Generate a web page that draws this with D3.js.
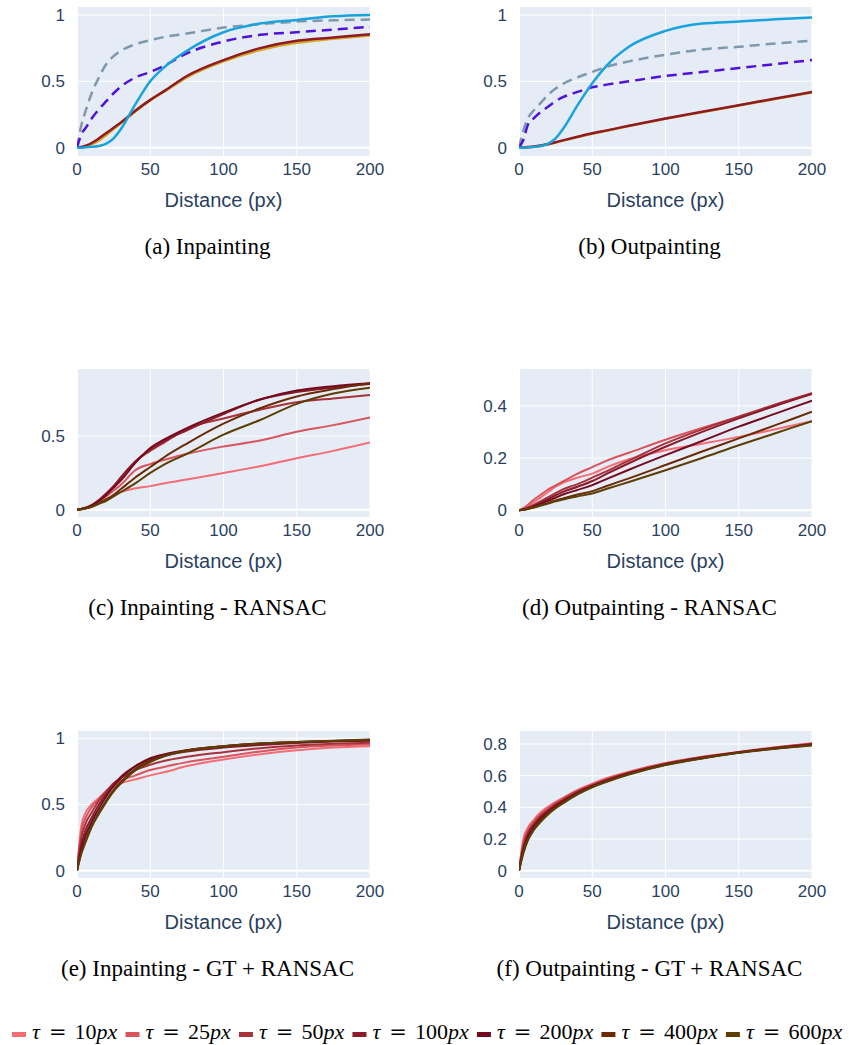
<!DOCTYPE html>
<html>
<head>
<meta charset="utf-8">
<script src="https://cdn.jsdelivr.net/npm/d3@7"></script>
<style>
  body { margin: 0; background: #fff; }
  .tick-label { font-family: "Liberation Sans", Arial, sans-serif; font-size: 17px; fill: #2a3f5f; }
  .axis-title { font-family: "Liberation Sans", Arial, sans-serif; font-size: 20px; fill: #2a3f5f; }
  .caption { font-family: "Liberation Serif", "Times New Roman", serif; font-size: 23px; fill: #000; }
  .legend { font-family: "Liberation Serif", "Times New Roman", serif; font-size: 22px; fill: #000; }
</style>
</head>
<body>
<svg id="chart" width="849" height="1045"></svg>
<script>
// shared x samples (distance in px)
var distance = [0, 3, 6, 10, 15, 20, 25, 30, 40, 50, 60, 75, 100, 125, 150, 175, 200];
var xTicks = [0, 50, 100, 150, 200];

// (a) Inpainting
var inpBlue   = [0, 0, 0.003, 0.006, 0.012, 0.03, 0.07, 0.14, 0.33, 0.5, 0.61, 0.73, 0.87, 0.935, 0.962, 0.99, 1.0];
var inpGrey   = [0, 0.17, 0.28, 0.41, 0.53, 0.63, 0.69, 0.73, 0.78, 0.81, 0.835, 0.86, 0.905, 0.93, 0.95, 0.96, 0.965];
var inpPurple = [0, 0.1, 0.15, 0.22, 0.29, 0.35, 0.41, 0.46, 0.53, 0.57, 0.62, 0.71, 0.8, 0.85, 0.87, 0.89, 0.91];
var inpRed    = [0, 0.005, 0.015, 0.035, 0.07, 0.11, 0.15, 0.19, 0.28, 0.36, 0.43, 0.54, 0.66, 0.75, 0.805, 0.83, 0.855];
var inpGold   = [0, 0.003, 0.01, 0.025, 0.055, 0.095, 0.14, 0.185, 0.275, 0.355, 0.425, 0.53, 0.65, 0.735, 0.79, 0.82, 0.845];

// (b) Outpainting
var outBlue   = [0, 0, 0.002, 0.005, 0.012, 0.03, 0.07, 0.14, 0.32, 0.485, 0.62, 0.76, 0.88, 0.935, 0.95, 0.967, 0.98];
var outGrey   = [0, 0.13, 0.22, 0.28, 0.34, 0.4, 0.445, 0.48, 0.53, 0.57, 0.61, 0.65, 0.7, 0.74, 0.76, 0.785, 0.807];
var outPurple = [0, 0.06, 0.17, 0.22, 0.27, 0.31, 0.35, 0.38, 0.42, 0.455, 0.475, 0.5, 0.54, 0.57, 0.6, 0.63, 0.66];
var outRed    = [0, 0.001, 0.004, 0.008, 0.016, 0.028, 0.041, 0.055, 0.082, 0.108, 0.13, 0.165, 0.22, 0.27, 0.32, 0.37, 0.42];
var outGold   = [0, 0.001, 0.003, 0.007, 0.015, 0.026, 0.039, 0.053, 0.08, 0.105, 0.127, 0.162, 0.217, 0.267, 0.317, 0.366, 0.416];

// tau thresholds shared by panels c-f
var tauLabels = ["10", "25", "50", "100", "200", "400", "600"];
var tauColors = ["#f46d75", "#d9545c", "#a8323a", "#8c1c2b", "#730a1e", "#6b2a04", "#5c3e05"];

// (c) Inpainting - RANSAC
var inpRansac = [
  [0, 0.003, 0.01, 0.02, 0.045, 0.07, 0.1, 0.12, 0.145, 0.16, 0.18, 0.205, 0.25, 0.295, 0.35, 0.4, 0.457],
  [0, 0.004, 0.012, 0.025, 0.055, 0.09, 0.13, 0.17, 0.27, 0.31, 0.34, 0.38, 0.43, 0.47, 0.53, 0.575, 0.627],
  [0, 0.005, 0.013, 0.03, 0.065, 0.11, 0.16, 0.22, 0.33, 0.4, 0.46, 0.55, 0.62, 0.68, 0.73, 0.757, 0.78],
  [0, 0.005, 0.013, 0.03, 0.065, 0.11, 0.16, 0.22, 0.33, 0.41, 0.47, 0.54, 0.65, 0.75, 0.8, 0.83, 0.855],
  [0, 0.004, 0.012, 0.025, 0.06, 0.1, 0.15, 0.2, 0.32, 0.42, 0.48, 0.555, 0.66, 0.75, 0.81, 0.84, 0.86],
  [0, 0.003, 0.009, 0.02, 0.045, 0.07, 0.1, 0.14, 0.22, 0.29, 0.36, 0.45, 0.585, 0.69, 0.77, 0.82, 0.86],
  [0, 0.003, 0.008, 0.02, 0.04, 0.06, 0.09, 0.12, 0.18, 0.25, 0.31, 0.38, 0.51, 0.61, 0.72, 0.79, 0.83]
];

// (d) Outpainting - RANSAC
var outRansac = [
  [0, 0.005, 0.015, 0.03, 0.05, 0.07, 0.09, 0.105, 0.125, 0.14, 0.165, 0.195, 0.23, 0.255, 0.281, 0.31, 0.341],
  [0, 0.008, 0.02, 0.04, 0.06, 0.08, 0.095, 0.11, 0.14, 0.165, 0.19, 0.22, 0.27, 0.315, 0.358, 0.4, 0.448],
  [0, 0.004, 0.01, 0.02, 0.035, 0.05, 0.065, 0.08, 0.1, 0.125, 0.15, 0.19, 0.256, 0.31, 0.358, 0.405, 0.448],
  [0, 0.003, 0.008, 0.016, 0.03, 0.043, 0.057, 0.07, 0.09, 0.112, 0.14, 0.18, 0.243, 0.3, 0.352, 0.4, 0.445],
  [0, 0.002, 0.006, 0.013, 0.025, 0.036, 0.048, 0.06, 0.078, 0.096, 0.12, 0.155, 0.211, 0.265, 0.32, 0.37, 0.42],
  [0, 0.002, 0.005, 0.01, 0.02, 0.028, 0.037, 0.045, 0.06, 0.073, 0.093, 0.122, 0.173, 0.225, 0.275, 0.326, 0.377],
  [0, 0.002, 0.005, 0.01, 0.018, 0.026, 0.034, 0.041, 0.053, 0.064, 0.082, 0.108, 0.153, 0.2, 0.249, 0.295, 0.341]
];

// (e) Inpainting - GT + RANSAC
var inpGtRansac = [
  [0, 0.34, 0.44, 0.5, 0.55, 0.6, 0.63, 0.66, 0.69, 0.72, 0.745, 0.79, 0.84, 0.88, 0.91, 0.93, 0.94],
  [0, 0.3, 0.4, 0.48, 0.54, 0.6, 0.64, 0.68, 0.72, 0.76, 0.785, 0.82, 0.86, 0.9, 0.93, 0.945, 0.955],
  [0, 0.25, 0.36, 0.44, 0.53, 0.6, 0.66, 0.7, 0.76, 0.8, 0.83, 0.86, 0.895, 0.925, 0.945, 0.958, 0.967],
  [0, 0.2, 0.31, 0.4, 0.5, 0.58, 0.65, 0.71, 0.79, 0.84, 0.87, 0.9, 0.93, 0.95, 0.965, 0.975, 0.982],
  [0, 0.17, 0.27, 0.37, 0.47, 0.56, 0.64, 0.7, 0.79, 0.85, 0.88, 0.91, 0.94, 0.96, 0.97, 0.98, 0.985],
  [0, 0.14, 0.23, 0.34, 0.44, 0.53, 0.61, 0.67, 0.77, 0.83, 0.87, 0.91, 0.94, 0.96, 0.972, 0.98, 0.988],
  [0, 0.13, 0.22, 0.33, 0.43, 0.52, 0.6, 0.66, 0.76, 0.82, 0.865, 0.905, 0.94, 0.96, 0.972, 0.982, 0.99]
];

// (f) Outpainting - GT + RANSAC
var outGtRansac = [
  [0, 0.2, 0.27, 0.32, 0.37, 0.405, 0.435, 0.46, 0.51, 0.55, 0.585, 0.625, 0.68, 0.72, 0.75, 0.78, 0.805],
  [0, 0.18, 0.255, 0.31, 0.36, 0.395, 0.428, 0.455, 0.505, 0.545, 0.58, 0.622, 0.678, 0.718, 0.749, 0.778, 0.803],
  [0, 0.16, 0.24, 0.295, 0.35, 0.385, 0.42, 0.448, 0.5, 0.54, 0.575, 0.618, 0.675, 0.716, 0.748, 0.776, 0.8],
  [0, 0.14, 0.225, 0.285, 0.34, 0.378, 0.413, 0.442, 0.495, 0.536, 0.572, 0.615, 0.673, 0.714, 0.747, 0.775, 0.798],
  [0, 0.13, 0.21, 0.275, 0.33, 0.37, 0.406, 0.436, 0.49, 0.533, 0.568, 0.612, 0.671, 0.712, 0.746, 0.773, 0.796],
  [0, 0.12, 0.2, 0.265, 0.32, 0.363, 0.4, 0.43, 0.486, 0.53, 0.565, 0.61, 0.669, 0.71, 0.745, 0.771, 0.793],
  [0, 0.11, 0.19, 0.255, 0.31, 0.356, 0.394, 0.425, 0.482, 0.527, 0.562, 0.607, 0.667, 0.708, 0.744, 0.77, 0.79]
];

var svg = d3.select("#chart");

function methodSeries(blue, grey, purple, red, gold) {
  return [
    { values: gold, color: "#d4a62a", width: 2.5 },
    { values: red, color: "#8e1b1f", width: 2.5 },
    { values: grey, color: "#7f98ad", width: 2.5, dash: "10,6" },
    { values: purple, color: "#4f12dc", width: 2.5, dash: "10,6" },
    { values: blue, color: "#19a3dd", width: 2.5 }
  ];
}

function tauSeries(rows) {
  return rows.map(function (vals, i) {
    return { values: vals, color: tauColors[i], width: 2 };
  });
}

var panels = [
  { left: 77, top: 7, h: 149, yDomain: [-0.063, 1.06], yTicks: [0, 0.5, 1], caption: "(a) Inpainting",
    series: methodSeries(inpBlue, inpGrey, inpPurple, inpRed, inpGold) },
  { left: 519, top: 7, h: 149, yDomain: [-0.063, 1.06], yTicks: [0, 0.5, 1], caption: "(b) Outpainting",
    series: methodSeries(outBlue, outGrey, outPurple, outRed, outGold) },
  { left: 77, top: 369, h: 148, yDomain: [-0.05, 0.957], yTicks: [0, 0.5], caption: "(c) Inpainting - RANSAC",
    series: tauSeries(inpRansac) },
  { left: 519, top: 369, h: 148, yDomain: [-0.026, 0.541], yTicks: [0, 0.2, 0.4], caption: "(d) Outpainting - RANSAC",
    series: tauSeries(outRansac) },
  { left: 77, top: 731, h: 147, yDomain: [-0.055, 1.055], yTicks: [0, 0.5, 1], caption: "(e) Inpainting - GT + RANSAC",
    series: tauSeries(inpGtRansac) },
  { left: 519, top: 731, h: 147, yDomain: [-0.046, 0.882], yTicks: [0, 0.2, 0.4, 0.6, 0.8], caption: "(f) Outpainting - GT + RANSAC",
    series: tauSeries(outGtRansac) }
];

var plotW = 293;
var fmt = d3.format("~g");

panels.forEach(function (p) {
  var x = d3.scaleLinear().domain([0, 200]).range([0, plotW]);
  var y = d3.scaleLinear().domain(p.yDomain).range([p.h, 0]);
  var g = svg.append("g").attr("transform", "translate(" + p.left + "," + p.top + ")");

  g.append("rect").attr("width", plotW).attr("height", p.h).attr("fill", "#e5ecf6");

  // grid
  g.selectAll(".xgrid").data(xTicks).enter().append("line")
    .attr("x1", function (d) { return x(d); }).attr("x2", function (d) { return x(d); })
    .attr("y1", 0).attr("y2", p.h)
    .attr("stroke", "#fff").attr("stroke-width", function (d) { return d === 0 ? 2 : 1; });
  g.selectAll(".ygrid").data(p.yTicks).enter().append("line")
    .attr("x1", 0).attr("x2", plotW)
    .attr("y1", function (d) { return y(d); }).attr("y2", function (d) { return y(d); })
    .attr("stroke", "#fff").attr("stroke-width", function (d) { return d === 0 ? 2 : 1; });

  // lines
  var line = d3.line()
    .x(function (d, i) { return x(distance[i]); })
    .y(function (d) { return y(d); })
    .curve(d3.curveMonotoneX);
  var clipId = "clip" + p.left + "_" + p.top;
  g.append("clipPath").attr("id", clipId).append("rect").attr("width", plotW).attr("height", p.h);
  var lines = g.append("g").attr("clip-path", "url(#" + clipId + ")");
  p.series.forEach(function (s) {
    lines.append("path")
      .attr("d", line(s.values))
      .attr("fill", "none")
      .attr("stroke", s.color)
      .attr("stroke-width", s.width)
      .attr("stroke-linejoin", "round")
      .attr("stroke-dasharray", s.dash || null);
  });

  // tick labels
  g.selectAll(".xt").data(xTicks).enter().append("text")
    .attr("class", "tick-label")
    .attr("x", function (d) { return x(d); })
    .attr("y", p.h + 18.5)
    .attr("text-anchor", "middle")
    .text(fmt);
  g.selectAll(".yt").data(p.yTicks).enter().append("text")
    .attr("class", "tick-label")
    .attr("x", -12)
    .attr("y", function (d) { return y(d); })
    .attr("dy", "0.35em")
    .attr("text-anchor", "end")
    .text(fmt);

  g.append("text").attr("class", "axis-title")
    .attr("x", plotW / 2).attr("y", p.h + 50.5)
    .attr("text-anchor", "middle")
    .text("Distance (px)");

  g.append("text").attr("class", "caption")
    .attr("x", plotW / 2 - 16).attr("y", p.h + 98)
    .attr("text-anchor", "middle")
    .text(p.caption);
});

// legend: swatch + "τ = Npx" in math style
var legend = svg.append("g").attr("class", "legend");
var lx = 12;
tauLabels.forEach(function (lab, i) {
  legend.append("rect").attr("x", lx).attr("y", 1032).attr("width", 14).attr("height", 5)
    .attr("fill", tauColors[i]);
  var t = legend.append("text").attr("x", lx + 20).attr("y", 1039);
  t.append("tspan").attr("font-style", "italic").text("τ");
  t.append("tspan").attr("dx", 9).attr("font-family", "DejaVu Serif").attr("font-size", 21).text("=");
  t.append("tspan").attr("dx", 8).text(lab);
  t.append("tspan").attr("font-style", "italic").text("px");
  var bb = t.node().getBBox();
  lx = bb.x + bb.width + 8;
});
</script>
</body>
</html>
